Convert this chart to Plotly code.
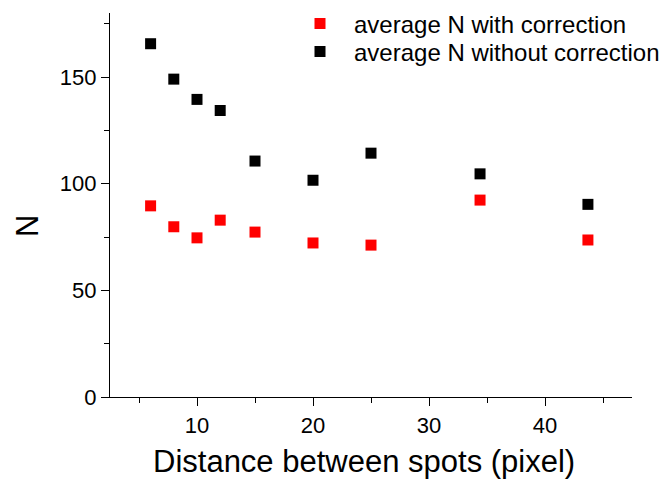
import plotly.graph_objects as go

distance = [6, 8, 10, 12, 15, 20, 25, 34.4, 43.7]
n_with_corr = [89.6, 79.8, 74.6, 82.9, 77.3, 72.2, 71.2, 92.3, 73.6]
n_without_corr = [165.6, 149.0, 139.5, 134.3, 110.6, 101.6, 114.3, 104.6, 90.3]
x_ticks = [10, 20, 30, 40]
y_ticks = [0, 50, 100, 150]

FONT = "Liberation Sans, Arial, sans-serif"

fig = go.Figure()
fig.add_trace(go.Scatter(x=distance, y=n_with_corr, mode="markers",
                         name="average N with correction", showlegend=True,
                         marker=dict(symbol="square", size=11, color="#ff0000", line=dict(width=0)),
                         legend="legend"))
fig.add_trace(go.Scatter(x=distance, y=n_without_corr, mode="markers",
                         name="average N without correction", showlegend=True,
                         marker=dict(symbol="square", size=11, color="#000000", line=dict(width=0)),
                         legend="legend2"))

PL, PB, PW, PH = 110, 397, 522, 384

def px(xp):
    return (xp - PL) / PW

def py(yp):
    return (PB - yp) / PH

leg_common = dict(xanchor="left", yanchor="middle", visible=True,
                  font=dict(family=FONT, size=24, color="black"), bgcolor="rgba(0,0,0,0)",
                  borderwidth=0, itemwidth=58)

fig.update_layout(
    width=661, height=480,
    showlegend=True,
    margin=dict(l=110, r=29, t=13, b=83, autoexpand=False),
    paper_bgcolor="white", plot_bgcolor="white",
    font=dict(family=FONT, color="black"),
    legend=dict(x=px(286), y=py(24), **leg_common),
    legend2=dict(x=px(286), y=py(52), **leg_common),
    xaxis=dict(range=[2.5, 47.5], tickvals=x_ticks, ticks="outside", ticklen=8, tickwidth=1.3,
               tickcolor="black", showline=True, linecolor="black", linewidth=1.3,
               showgrid=False, zeroline=False, tickfont=dict(size=22, family=FONT),
               minor=dict(dtick=5, tick0=0, ticks="outside", ticklen=5, tickwidth=1.3,
                          tickcolor="black", showgrid=False)),
    yaxis=dict(range=[0, 180], tickvals=y_ticks, ticks="outside", ticklen=8, tickwidth=1.3,
               tickcolor="black", showline=True, linecolor="black", linewidth=1.3,
               showgrid=False, zeroline=False, tickfont=dict(size=22, family=FONT),
               minor=dict(dtick=25, tick0=0, ticks="outside", ticklen=5, tickwidth=1.3,
                          tickcolor="black", showgrid=False)),
    annotations=[
        dict(text="Distance between spots (pixel)", xref="paper", yref="paper",
             x=px(364), y=py(461), xanchor="center", yanchor="middle",
             showarrow=False, font=dict(size=31, family=FONT, color="black")),
        dict(text="N", xref="paper", yref="paper",
             x=px(27), y=py(226), xanchor="center", yanchor="middle",
             textangle=-90, showarrow=False, font=dict(size=31, family=FONT, color="black")),
    ],
)

fig.write_html("out.html")
